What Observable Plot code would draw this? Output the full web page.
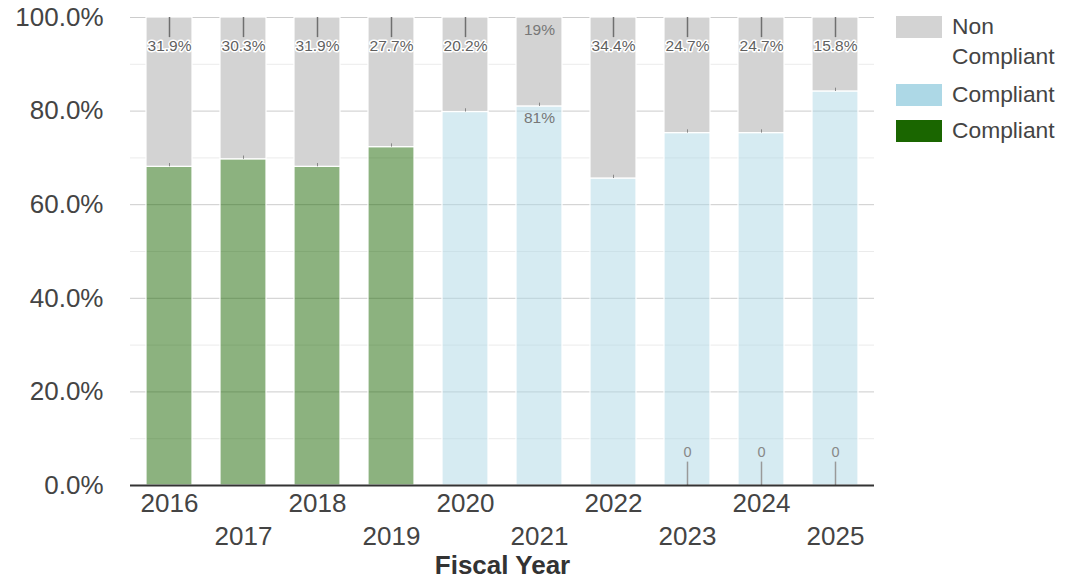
<!DOCTYPE html>
<html>
<head>
<meta charset="utf-8">
<script src="https://cdn.jsdelivr.net/npm/d3@7"></script>
<script src="https://cdn.jsdelivr.net/npm/@observablehq/plot@0.6"></script>
<style>
  body { margin: 0; background: #fff; font-family: "Liberation Sans", Arial, sans-serif; }
  #wrap { position: relative; width: 1070px; height: 580px; }
  #legend { position: absolute; left: 896px; top: 14px; color: #444; font-size: 22.8px; }
  .item { display: flex; align-items: flex-start; margin-bottom: 9px; }
  .sw { width: 46px; height: 22px; margin-right: 10px; flex: none; margin-top: 2px; }
  .lab { line-height: 30px; margin-top: -3px; width: 110px; }
  .item:first-child { margin-bottom: 11px; }
</style>
</head>
<body>
<div id="wrap">
  <div id="chart"></div>
  <div id="legend"></div>
</div>
<script>
const years = [2016, 2017, 2018, 2019, 2020, 2021, 2022, 2023, 2024, 2025];
const nonCompliant = [31.9, 30.3, 31.9, 27.7, 20.2, 19, 34.4, 24.7, 24.7, 15.8];
const compliantBlue = [null, null, null, null, 79.8, 81, 65.6, 75.3, 75.3, 84.2];
const compliantGreen = [68.1, 69.7, 68.1, 72.3, null, null, null, 0, 0, 0];
const insideLabelYears = [2021];
const yTicks = [0, 20, 40, 60, 80, 100];
const minorTicks = [10, 30, 50, 70, 90];
const seriesKeys = ["green", "blue", "non"];
const seriesColors = ["rgba(26,102,0,0.5)", "rgba(173,216,230,0.5)", "#d3d3d3"];
const legendItems = [
  {label: "Non Compliant", color: "#d3d3d3"},
  {label: "Compliant", color: "#add8e6"},
  {label: "Compliant", color: "#1a6600"}
];

const rows = [];
years.forEach((yr, i) => {
  if (compliantGreen[i] != null) rows.push({year: yr, series: "green", value: compliantGreen[i]});
  if (compliantBlue[i] != null) rows.push({year: yr, series: "blue", value: compliantBlue[i]});
  rows.push({year: yr, series: "non", value: nonCompliant[i]});
});
const perYear = years.map((yr, i) => {
  const comp = (compliantGreen[i] || 0) + (compliantBlue[i] || 0);
  return {year: yr, i, comp, top: comp + nonCompliant[i], non: nonCompliant[i],
          blue: compliantBlue[i], green: compliantGreen[i], inside: insideLabelYears.includes(yr)};
});
const outsideLabels = perYear.filter(d => !d.inside);
const insideLabels = perYear.filter(d => d.inside);
const zeroGreen = perYear.filter(d => d.green === 0);

const font = "Liberation Sans, Arial, sans-serif";

const chart = Plot.plot({
  width: 1070,
  height: 580,
  marginLeft: 130,
  marginRight: 196,
  marginTop: 17,
  marginBottom: 95,
  style: {fontFamily: font, background: "#fff"},
  x: {type: "band", domain: years, paddingInner: 0.38, paddingOuter: 0.21, axis: null},
  y: {domain: [0, 100], axis: null},
  color: {domain: seriesKeys, range: seriesColors},
  marks: [
    Plot.ruleY(minorTicks, {stroke: "#ebebeb", strokeWidth: 1}),
    Plot.ruleY(yTicks.filter(t => t > 0), {stroke: "#cccccc", strokeWidth: 1}),
    Plot.barY(rows, Plot.stackY({
      x: "year", y: "value", fill: "series", z: "series", order: seriesKeys,
      stroke: "#fff", strokeWidth: 1.2
    })),
    Plot.ruleX(perYear, {x: "year", y1: d => d.comp, y2: d => d.comp + 0.7, stroke: "#888", strokeWidth: 1}),
    Plot.ruleX(outsideLabels, {x: "year", y1: d => d.top, y2: d => d.top - 4.3, stroke: "#6f6f6f", strokeWidth: 1.5}),
    Plot.text(outsideLabels, {
      x: "year", y: "top", dy: 29, text: d => d.non + "%",
      fill: "#5f5f5f", stroke: "#fff", strokeWidth: 3, fontSize: 15.5
    }),
    Plot.text(insideLabels, {
      x: "year", y: "top", dy: 13, text: d => d.non + "%",
      fill: "#777", fontSize: 15.5
    }),
    Plot.text(insideLabels, {
      x: "year", y: "comp", dy: 12, text: d => d.blue + "%",
      fill: "#777", fontSize: 15.5
    }),
    Plot.ruleX(zeroGreen, {x: "year", y1: 0, y2: 5, stroke: "#999", strokeWidth: 1.5}),
    Plot.text(zeroGreen, {
      x: "year", y: 0, dy: -33, text: d => String(d.green),
      fill: "#888", fontSize: 14.5
    }),
    Plot.ruleY([0], {stroke: "#333", strokeWidth: 2}),
    Plot.text(yTicks, {
      y: d => d, text: d => d.toFixed(1) + "%",
      frameAnchor: "left", textAnchor: "end", dx: -27,
      fill: "#444", fontSize: 26
    }),
    Plot.text(years.filter((d, i) => i % 2 === 0), {
      x: d => d, frameAnchor: "bottom", dy: 18, lineAnchor: "middle",
      text: d => String(d), fill: "#444", fontSize: 26
    }),
    Plot.text(years.filter((d, i) => i % 2 === 1), {
      x: d => d, frameAnchor: "bottom", dy: 51, lineAnchor: "middle",
      text: d => String(d), fill: "#444", fontSize: 26
    }),
    Plot.text(["Fiscal Year"], {
      frameAnchor: "bottom", dy: 80, lineAnchor: "middle",
      text: d => d, fill: "#333", fontSize: 26, fontWeight: "bold"
    })
  ]
});
document.getElementById("chart").appendChild(chart);

const legend = document.getElementById("legend");
legendItems.forEach(it => {
  const row = document.createElement("div");
  row.className = "item";
  const sw = document.createElement("div");
  sw.className = "sw";
  sw.style.background = it.color;
  const lab = document.createElement("div");
  lab.className = "lab";
  lab.textContent = it.label;
  row.appendChild(sw);
  row.appendChild(lab);
  legend.appendChild(row);
});
</script>
</body>
</html>
